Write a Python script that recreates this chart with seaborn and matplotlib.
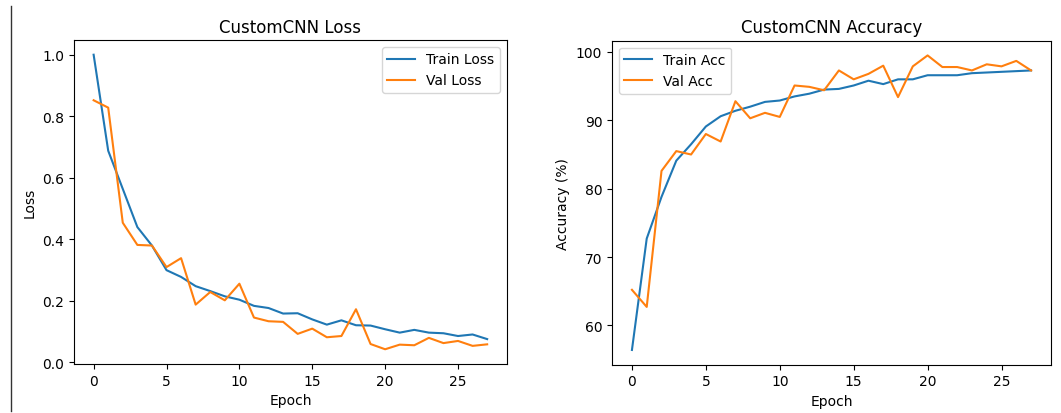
import matplotlib
matplotlib.use("Agg")
import matplotlib.pyplot as plt
from matplotlib.lines import Line2D
import numpy as np
import pandas as pd
import seaborn as sns

# Training history of the CustomCNN model (28 epochs)
epochs = list(range(28))

train_loss = [1.00, 0.688, 0.564, 0.44, 0.38, 0.30, 0.278, 0.248, 0.232, 0.215,
              0.204, 0.184, 0.177, 0.159, 0.160, 0.140, 0.123, 0.137, 0.121, 0.120,
              0.108, 0.097, 0.106, 0.097, 0.095, 0.086, 0.091, 0.076]
val_loss = [0.852, 0.828, 0.454, 0.382, 0.380, 0.310, 0.339, 0.188, 0.229, 0.202,
            0.256, 0.146, 0.134, 0.132, 0.093, 0.110, 0.082, 0.086, 0.173, 0.060,
            0.043, 0.058, 0.056, 0.080, 0.063, 0.070, 0.054, 0.059]

train_acc = [56.4, 72.7, 78.8, 84.1, 86.5, 89.1, 90.6, 91.4, 92.0, 92.7,
             92.9, 93.5, 93.9, 94.5, 94.6, 95.1, 95.8, 95.3, 96.0, 96.0,
             96.6, 96.6, 96.6, 96.9, 97.0, 97.1, 97.2, 97.3]
val_acc = [65.2, 62.7, 82.6, 85.5, 85.0, 88.0, 86.9, 92.8, 90.3, 91.1,
           90.5, 95.1, 94.9, 94.4, 97.3, 96.0, 96.8, 98.0, 93.4, 97.9,
           99.5, 97.8, 97.8, 97.3, 98.2, 97.9, 98.7, 97.3]

model_name = "CustomCNN"

loss_df = pd.DataFrame({
    "Epoch": epochs * 2,
    "value": train_loss + val_loss,
    "series": ["Train Loss"] * len(epochs) + ["Val Loss"] * len(epochs),
})
acc_df = pd.DataFrame({
    "Epoch": epochs * 2,
    "value": train_acc + val_acc,
    "series": ["Train Acc"] * len(epochs) + ["Val Acc"] * len(epochs),
})

palette = ["#1f77b4", "#ff7f0e"]

fig = plt.figure(figsize=(10.61, 4.14), dpi=100)
ax1 = fig.add_axes([0.0697, 0.1184, 0.408, 0.7826])
ax2 = fig.add_axes([0.5768, 0.1167, 0.4138, 0.7826])

sns.lineplot(data=loss_df, x="Epoch", y="value", hue="series", palette=palette,
             linewidth=1.5, ax=ax1)
ax1.set_title(f"{model_name} Loss")
ax1.set_xlabel("Epoch")
ax1.set_ylabel("Loss")
ax1.legend(loc="upper right")

sns.lineplot(data=acc_df, x="Epoch", y="value", hue="series", palette=palette,
             linewidth=1.5, ax=ax2)
ax2.set_title(f"{model_name} Accuracy")
ax2.set_xlabel("Epoch")
ax2.set_ylabel("Accuracy (%)")
ax2.legend(loc="upper left")

# cell border on the left
fig.add_artist(Line2D([0.0104, 0.0104], [0.005, 0.983], transform=fig.transFigure,
                      color="#333333", linewidth=1.0))

fig.savefig("out.png", dpi=100)
